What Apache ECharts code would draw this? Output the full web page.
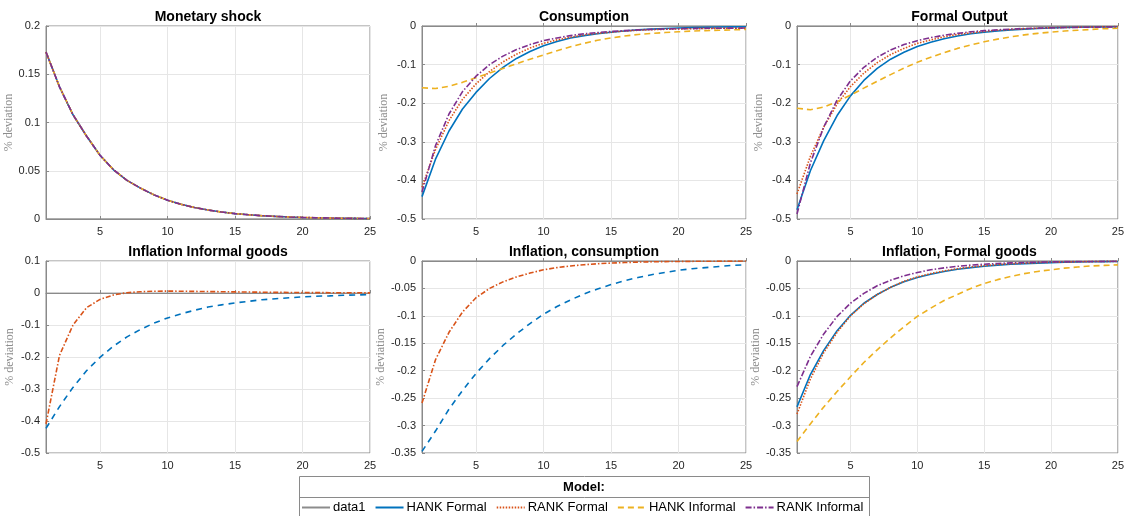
<!DOCTYPE html>
<html>
<head>
<meta charset="utf-8">
<script src="https://cdn.jsdelivr.net/npm/echarts@6/dist/echarts.min.js"></script>
<style>
html, body { margin: 0; padding: 0; background: #fff; }
#irf { width: 1127px; height: 516px; }
</style>
</head>
<body>
<div id="irf"></div>
<script>
var periods = [1,2,3,4,5,6,7,8,9,10,11,12,13,14,15,16,17,18,19,20,21,22,23,24,25];
var zeroLine = [0,0,0,0,0,0,0,0,0,0,0,0,0,0,0,0,0,0,0,0,0,0,0,0,0];

// monetary shock (same path for every model)
var shock = [0.173,0.137,0.108,0.086,0.066,0.051,0.040,0.032,0.025,0.0195,0.0152,0.0119,0.0093,0.0072,0.0056,0.0044,0.0034,0.0027,0.0021,0.0016,0.0013,0.001,0.0008,0.0006,0.0005];

// consumption
var consHankF = [-0.442,-0.345,-0.272,-0.215,-0.172,-0.136,-0.107,-0.084,-0.066,-0.051,-0.040,-0.031,-0.025,-0.020,-0.016,-0.013,-0.010,-0.008,-0.0065,-0.005,-0.004,-0.0033,-0.0027,-0.0022,-0.0018];
var consRankF = [-0.418,-0.32,-0.245,-0.19,-0.15,-0.118,-0.093,-0.073,-0.057,-0.045,-0.036,-0.029,-0.023,-0.019,-0.016,-0.013,-0.011,-0.0095,-0.0085,-0.0075,-0.007,-0.0065,-0.006,-0.006,-0.0055];
var consHankI = [-0.160,-0.162,-0.156,-0.146,-0.134,-0.122,-0.110,-0.098,-0.086,-0.075,-0.064,-0.054,-0.045,-0.037,-0.031,-0.026,-0.022,-0.019,-0.017,-0.015,-0.013,-0.012,-0.011,-0.010,-0.009];
var consRankI = [-0.43,-0.31,-0.228,-0.17,-0.13,-0.1,-0.078,-0.061,-0.048,-0.038,-0.031,-0.025,-0.02,-0.017,-0.014,-0.012,-0.01,-0.0088,-0.0078,-0.007,-0.0065,-0.006,-0.0058,-0.0055,-0.0053];

// formal output
var outHankF = [-0.476,-0.375,-0.297,-0.232,-0.181,-0.141,-0.110,-0.086,-0.068,-0.053,-0.042,-0.033,-0.026,-0.020,-0.016,-0.013,-0.010,-0.008,-0.0065,-0.005,-0.004,-0.0033,-0.0027,-0.0022,-0.0018];
var outRankF = [-0.435,-0.338,-0.262,-0.202,-0.157,-0.122,-0.095,-0.074,-0.058,-0.045,-0.036,-0.028,-0.022,-0.018,-0.014,-0.011,-0.009,-0.0072,-0.0058,-0.0047,-0.0038,-0.0031,-0.0025,-0.002,-0.0016];
var outHankI = [-0.213,-0.217,-0.210,-0.196,-0.179,-0.161,-0.143,-0.126,-0.109,-0.094,-0.081,-0.069,-0.058,-0.049,-0.041,-0.034,-0.028,-0.023,-0.019,-0.016,-0.013,-0.011,-0.009,-0.007,-0.006];
var outRankI = [-0.487,-0.355,-0.262,-0.192,-0.142,-0.107,-0.081,-0.062,-0.048,-0.038,-0.030,-0.024,-0.019,-0.015,-0.012,-0.010,-0.008,-0.0065,-0.0055,-0.0045,-0.004,-0.0035,-0.003,-0.0025,-0.002];

// inflation informal goods
var infInfA = [-0.409,-0.195,-0.1,-0.046,-0.02,-0.006,0.001,0.004,0.0055,0.006,0.0055,0.005,0.0045,0.004,0.0035,0.003,0.0025,0.002,0.0017,0.0014,0.0012,0.001,0.0008,0.0006,0.0005];
var infInfB = [-0.423,-0.355,-0.295,-0.243,-0.201,-0.166,-0.137,-0.114,-0.094,-0.078,-0.065,-0.054,-0.044,-0.037,-0.031,-0.026,-0.021,-0.018,-0.015,-0.012,-0.010,-0.009,-0.007,-0.006,-0.005];

// inflation consumption
var infConsA = [-0.259,-0.18,-0.13,-0.093,-0.067,-0.05,-0.038,-0.029,-0.022,-0.016,-0.012,-0.009,-0.0068,-0.005,-0.0038,-0.0028,-0.002,-0.0015,-0.0011,-0.0008,-0.0006,-0.0004,-0.0003,-0.0002,-0.0001];
var infConsB = [-0.347,-0.310,-0.270,-0.236,-0.205,-0.178,-0.154,-0.133,-0.114,-0.097,-0.083,-0.071,-0.060,-0.051,-0.043,-0.036,-0.030,-0.025,-0.021,-0.017,-0.014,-0.012,-0.010,-0.008,-0.007];

// inflation formal goods
var infForHankF = [-0.266,-0.207,-0.163,-0.127,-0.099,-0.077,-0.061,-0.048,-0.038,-0.030,-0.024,-0.019,-0.015,-0.012,-0.0095,-0.0075,-0.006,-0.0048,-0.0038,-0.003,-0.0024,-0.0019,-0.0015,-0.0012,-0.001];
var infForRankF = [-0.279,-0.215,-0.167,-0.13,-0.1,-0.078,-0.061,-0.048,-0.037,-0.029,-0.023,-0.018,-0.014,-0.011,-0.0085,-0.0065,-0.005,-0.004,-0.003,-0.0023,-0.0018,-0.0014,-0.0011,-0.0008,-0.0006];
var infForHankI = [-0.329,-0.297,-0.266,-0.238,-0.211,-0.185,-0.162,-0.14,-0.12,-0.101,-0.086,-0.072,-0.061,-0.050,-0.041,-0.034,-0.028,-0.023,-0.019,-0.016,-0.013,-0.011,-0.009,-0.008,-0.007];
var infForRankI = [-0.229,-0.174,-0.133,-0.101,-0.077,-0.059,-0.045,-0.035,-0.027,-0.021,-0.016,-0.0125,-0.0097,-0.0075,-0.0058,-0.0045,-0.0035,-0.0027,-0.0021,-0.0016,-0.0012,-0.001,-0.0008,-0.0006,-0.0005];

var xTicks = [5, 10, 15, 20, 25];
var panelTitles = ['Monetary shock', 'Consumption', 'Formal Output', 'Inflation Informal goods', 'Inflation, consumption', 'Inflation, Formal goods'];
var yRanges = [[0, 0.2, 0.05], [-0.5, 0, 0.1], [-0.5, 0, 0.1], [-0.5, 0.1, 0.1], [-0.35, 0, 0.05], [-0.35, 0, 0.05]];

var font = "'Liberation Sans', Arial, sans-serif";
var blue = '#0072BD', orange = '#D95319', yellow = '#EDB120', purple = '#7E2F8E';

var boxes = [
    {left: 46, top: 26, width: 324, height: 193},
    {left: 422, top: 26, width: 324, height: 193},
    {left: 797, top: 26, width: 325, height: 193},
    {left: 46, top: 261, width: 324, height: 192},
    {left: 422, top: 261, width: 324, height: 192},
    {left: 797, top: 261, width: 325, height: 192}
];

function pts(arr) {
    return arr.map(function (v, i) { return [periods[i], v]; });
}

var styles = {
    'data1': {color: '#8c8c8c', width: 0.8, type: 'solid'},
    'HANK Formal': {color: blue, width: 1.6, type: 'solid'},
    'RANK Formal': {color: orange, width: 1.6, type: [1.5, 1.5]},
    'HANK Informal': {color: yellow, width: 1.6, type: [6, 4]},
    'RANK Informal': {color: purple, width: 1.6, type: [6, 2, 1.5, 2]},
    'inflA': {color: orange, width: 1.6, type: [5, 2, 1.5, 2]},
    'inflB': {color: blue, width: 1.6, type: [6, 5]}
};

function line(name, k, arr) {
    var s = styles[name];
    return {
        name: name, type: 'line', xAxisIndex: k, yAxisIndex: k,
        data: pts(arr), showSymbol: false, symbol: 'none', silent: true,
        color: s.color,
        lineStyle: {color: s.color, width: s.width, type: s.type}
    };
}

var series = [];
// panel 1
series.push(line('data1', 0, zeroLine));
series.push(line('HANK Formal', 0, shock));
series.push(line('RANK Formal', 0, shock));
series.push(line('HANK Informal', 0, shock));
series.push(line('RANK Informal', 0, shock));
// panel 2
series.push(line('data1', 1, zeroLine));
series.push(line('HANK Formal', 1, consHankF));
series.push(line('RANK Formal', 1, consRankF));
series.push(line('HANK Informal', 1, consHankI));
series.push(line('RANK Informal', 1, consRankI));
// panel 3
series.push(line('data1', 2, zeroLine));
series.push(line('HANK Formal', 2, outHankF));
series.push(line('RANK Formal', 2, outRankF));
series.push(line('HANK Informal', 2, outHankI));
series.push(line('RANK Informal', 2, outRankI));
// panel 4
series.push(line('data1', 3, zeroLine));
series.push(line('inflB', 3, infInfB));
series.push(line('inflA', 3, infInfA));
// panel 5
series.push(line('data1', 4, zeroLine));
series.push(line('inflB', 4, infConsB));
series.push(line('inflA', 4, infConsA));
// panel 6
series.push(line('data1', 5, zeroLine));
series.push(line('HANK Formal', 5, infForHankF));
series.push(line('RANK Formal', 5, infForRankF));
series.push(line('HANK Informal', 5, infForHankI));
series.push(line('RANK Informal', 5, infForRankI));

var grids = [], xAxes = [], yAxes = [], titles = [];
boxes.forEach(function (b, k) {
    grids.push({left: b.left, top: b.top, width: b.width, height: b.height,
        show: true, borderColor: '#8a8a8a', borderWidth: 1, containLabel: false});
    xAxes.push({
        type: 'value', gridIndex: k, min: 1, max: 25,
        axisLine: {show: true, lineStyle: {color: '#8a8a8a'}},
        axisTick: {show: true, inside: true, length: 3, customValues: xTicks, lineStyle: {color: '#8a8a8a'}},
        axisLabel: {customValues: xTicks, color: '#262626', fontSize: 11, fontFamily: font, margin: 7},
        splitLine: {show: true, lineStyle: {color: '#e6e6e6'}}
    });
    var r = yRanges[k];
    yAxes.push({
        type: 'value', gridIndex: k, min: r[0], max: r[1], interval: r[2],
        name: '% deviation', nameLocation: 'middle', nameGap: k % 3 === 0 ? 30 : 32,
        nameTextStyle: {color: '#8c8c8c', fontSize: 12, fontFamily: "'Liberation Serif', 'DejaVu Serif', serif"},
        axisLine: {show: true, lineStyle: {color: '#8a8a8a'}},
        axisTick: {show: true, inside: true, length: 3, lineStyle: {color: '#8a8a8a'}},
        axisLabel: {color: '#262626', fontSize: 11, fontFamily: font, margin: 6},
        splitLine: {show: true, lineStyle: {color: '#e6e6e6'}}
    });
    titles.push({
        text: panelTitles[k], left: b.left + b.width / 2, top: b.top - 16, textAlign: 'center',
        padding: 0,
        textStyle: {fontSize: 14, fontWeight: 'bold', color: '#000', fontFamily: font}
    });
});

var myChart = echarts.init(document.getElementById('irf'));
var option = {
    animation: false,
    backgroundColor: '#fff',
    title: titles,
    grid: grids,
    xAxis: xAxes,
    yAxis: yAxes,
    legend: {
        data: ['data1', 'HANK Formal', 'RANK Formal', 'HANK Informal', 'RANK Informal'],
        left: 301, top: 501, padding: 0,
        itemWidth: 28, itemHeight: 12, itemGap: 9,
        selectedMode: false,
        itemStyle: {opacity: 0},
        textStyle: {fontSize: 13, color: '#000', fontFamily: font, padding: [0, 0, 0, -2]}
    },
    graphic: [
        {type: 'rect', shape: {x: 299.5, y: 476.5, width: 570, height: 45},
         style: {fill: 'none', stroke: '#8a8a8a', lineWidth: 1}, z: 1},
        {type: 'line', shape: {x1: 299.5, y1: 497.5, x2: 869.5, y2: 497.5},
         style: {stroke: '#8a8a8a', lineWidth: 1}, z: 1},
        {type: 'text', x: 584, y: 487,
         style: {text: 'Model:', fill: '#000', font: 'bold 13px ' + font, textAlign: 'center', textVerticalAlign: 'middle'}, z: 2}
    ],
    series: series
};
myChart.setOption(option);
</script>
</body>
</html>
